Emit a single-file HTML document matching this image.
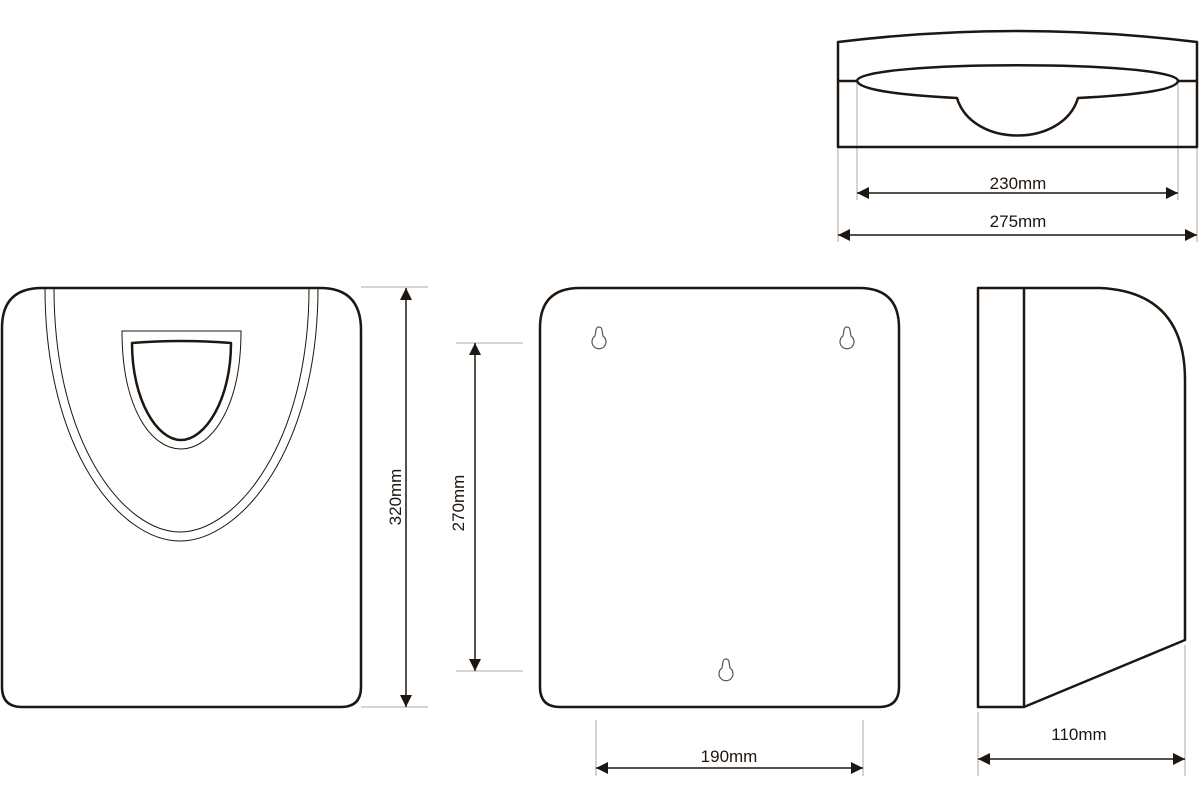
<!DOCTYPE html>
<html><head><meta charset="utf-8"><style>html,body{margin:0;padding:0;background:#fff}svg{display:block}</style></head><body>
<svg width="1200" height="800" viewBox="0 0 1200 800" xmlns="http://www.w3.org/2000/svg">
<defs>
<marker id="a" viewBox="0 0 10 10" refX="10" refY="5" markerWidth="12" markerHeight="12" markerUnits="userSpaceOnUse" orient="auto-start-reverse"><path d="M0,0 L10,5 L0,10 z" fill="#1e160f"/></marker>
</defs>
<g fill="none" stroke="#aaa" stroke-width="1">
<line x1="857" y1="81" x2="857" y2="200"/><line x1="1178" y1="81" x2="1178" y2="200"/>
<line x1="838" y1="147" x2="838" y2="242"/><line x1="1197" y1="147" x2="1197" y2="242"/>
<line x1="361" y1="287" x2="428" y2="287"/><line x1="361" y1="707" x2="428" y2="707"/>
<line x1="456" y1="343" x2="523" y2="343"/><line x1="456" y1="671" x2="523" y2="671"/>
<line x1="596" y1="720" x2="596" y2="776"/><line x1="863" y1="720" x2="863" y2="776"/>
<line x1="978" y1="712" x2="978" y2="776"/><line x1="1185" y1="645" x2="1185" y2="776"/>
</g>
<g fill="none" stroke="#1e160f" stroke-width="1.5">
<line x1="857" y1="193" x2="1178" y2="193" marker-start="url(#a)" marker-end="url(#a)"/>
<line x1="838" y1="235" x2="1197" y2="235" marker-start="url(#a)" marker-end="url(#a)"/>
<line x1="406" y1="288" x2="406" y2="707" marker-start="url(#a)" marker-end="url(#a)"/>
<line x1="475" y1="343" x2="475" y2="671" marker-start="url(#a)" marker-end="url(#a)"/>
<line x1="596" y1="768" x2="863" y2="768" marker-start="url(#a)" marker-end="url(#a)"/>
<line x1="978" y1="759" x2="1185" y2="759" marker-start="url(#a)" marker-end="url(#a)"/>
</g>
<g fill="none" stroke="#1e160f" stroke-width="2.5" stroke-linejoin="round">
<path d="M838,147 L838,42 Q1018,20 1197,42 L1197,147 Z"/>
<line x1="838" y1="81" x2="857" y2="81"/><line x1="1178" y1="81" x2="1197" y2="81"/>
<path d="M857,81 C857,60 1178,60 1178,81"/>
<path d="M857,81 C860,92 920,96 957,98 C972,148 1063,148 1078,98 C1116,96 1176,92 1178,81"/>
<path d="M42,288 L320,288 Q361,288 361,330 L361,687 Q361,707 341,707 L22,707 Q2,707 2,687 L2,328 Q2,288 42,288 Z"/>
<path d="M580,288 L859,288 Q899,288 899,328 L899,687 Q899,707 879,707 L560,707 Q540,707 540,687 L540,328 Q540,288 580,288 Z"/>
<path d="M978,288 L1100,288 Q1185,292 1185,380 L1185,640 L1024,707 L978,707 Z"/>
<line x1="1024" y1="288" x2="1024" y2="707"/>
<path d="M132,343 Q181,339 231,343 C231,400 205,440 181,440 C157,440 132,400 132,343 Z"/>
</g>
<g fill="none" stroke="#1e160f" stroke-width="1">
<path d="M45,288 C45,450 120,541 180,541 C240,541 318,450 318,288"/>
<path d="M54,288 C54,445 125,532 180,532 C235,532 309,445 309,288"/>
<path d="M122,331 L241,331 C241,410 210,449 181,449 C152,449 122,410 122,331 Z"/>
</g>
<g fill="none" stroke="#555" stroke-width="1.2">
<path d="M597,330 A3,3 0 0 1 603,330 L604,336 A7,7 0 1 1 596,336 Z" transform="translate(-1,0)"/>
<path d="M845,330 A3,3 0 0 1 851,330 L852,336 A7,7 0 1 1 844,336 Z" transform="translate(-1,0)"/>
<path d="M724,662 A3,3 0 0 1 730,662 L731,668 A7,7 0 1 1 723,668 Z" transform="translate(-1,0)"/>
</g>
<g font-family="Liberation Sans, sans-serif" font-size="17" fill="#1e160f" text-anchor="middle">
<text x="1018" y="189">230mm</text>
<text x="1018" y="227">275mm</text>
<text x="729" y="762">190mm</text>
<text x="1079" y="740">110mm</text>
<text transform="translate(401,497) rotate(-90)">320mm</text>
<text transform="translate(464,503) rotate(-90)">270mm</text>
</g>
</svg>
</body></html>
